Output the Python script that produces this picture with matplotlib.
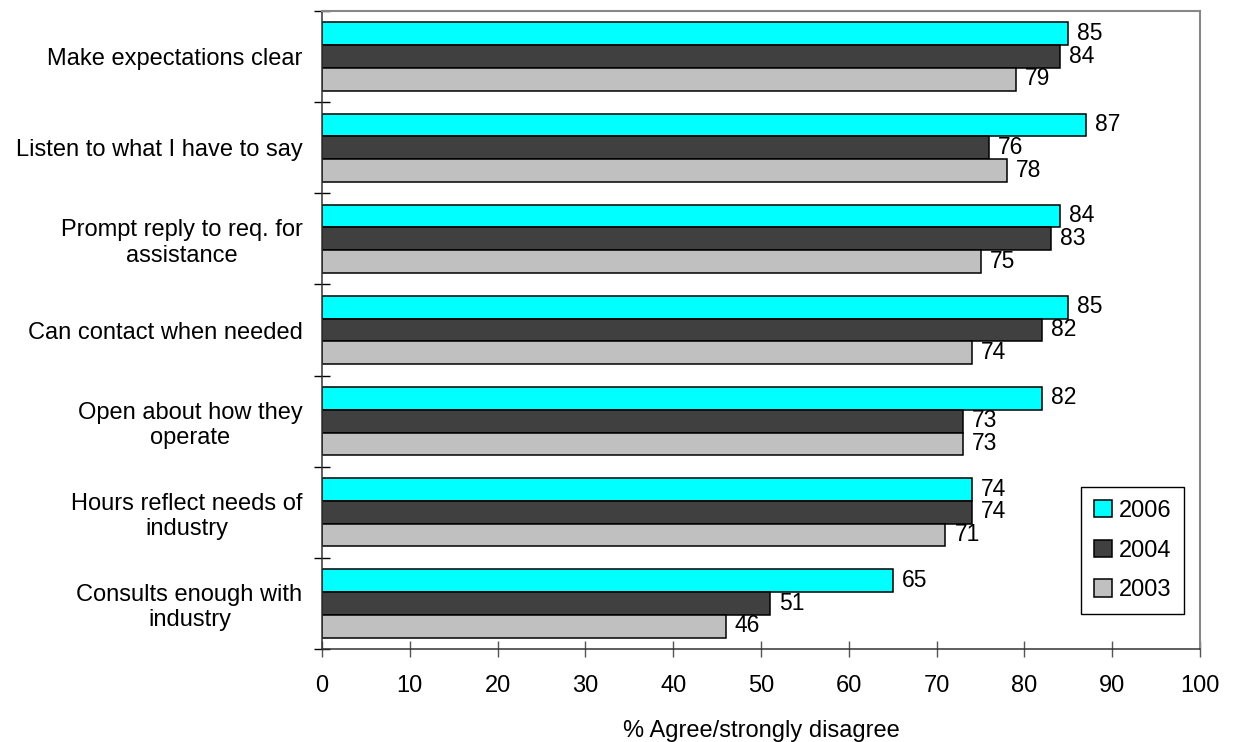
import matplotlib
matplotlib.use("Agg")
import matplotlib.pyplot as plt
import numpy as np

categories = [
    "Make expectations clear",
    "Listen to what I have to say",
    "Prompt reply to req. for\nassistance",
    "Can contact when needed",
    "Open about how they\noperate",
    "Hours reflect needs of\nindustry",
    "Consults enough with\nindustry",
]
series_names = ["2006", "2004", "2003"]
v2006 = [85, 87, 84, 85, 82, 74, 65]
v2004 = [84, 76, 83, 82, 73, 74, 51]
v2003 = [79, 78, 75, 74, 73, 71, 46]
xticks = [0, 10, 20, 30, 40, 50, 60, 70, 80, 90, 100]
xlabel = "% Agree/strongly disagree"

colors = ["#00FFFF", "#404040", "#C0C0C0"]

plt.rcParams['font.family'] = ['Liberation Sans', 'DejaVu Sans']
FS = 17
VFS = 16.5

fig = plt.figure(figsize=(12.35, 7.42), dpi=100)
ax = fig.add_axes([322/1235, 1-649/742, 878/1235, 638/742])

y = np.arange(len(categories))
h = 0.25
offsets = [-h, 0, h]
for vals, name, col, off in zip([v2006, v2004, v2003], series_names, colors, offsets):
    ax.barh(y + off, vals, height=h, color=col, edgecolor='black', linewidth=1.1, label=name, zorder=2)
    for yi, v in zip(y + off, vals):
        ax.annotate(str(v), (v, yi), xytext=(6.5, 0.3), textcoords='offset points',
                    ha='left', va='center', fontsize=VFS)

ax.set_xlim(0, 100)
ax.set_ylim(len(categories) - 0.5, -0.5)
ax.set_xticks(xticks)
ax.set_xticklabels([str(t) for t in xticks], fontsize=FS)
ax.set_yticks(y)
ax.set_yticklabels(categories, fontsize=FS, multialignment='center')
ax.set_yticks(np.arange(-0.5, len(categories), 1.0), minor=True)
ax.tick_params(axis='y', which='major', length=0, pad=14)
ax.tick_params(axis='y', which='minor', direction='inout', length=12, width=1, color='black')
ax.tick_params(axis='x', which='major', direction='inout', length=12, width=1, color='#555555', pad=13)
ax.set_xlabel(xlabel, fontsize=FS, labelpad=16)

for s in ['left', 'bottom']:
    ax.spines[s].set_color('#333333')
    ax.spines[s].set_linewidth(1.1)
for s in ['top', 'right']:
    ax.spines[s].set_color('#888888')
    ax.spines[s].set_linewidth(1.5)

leg = ax.legend(loc='upper right', bbox_to_anchor=(0.982, 0.254), fontsize=FS,
                frameon=True, fancybox=False, edgecolor='black', framealpha=1,
                handlelength=0.75, handleheight=0.75, handletextpad=0.3,
                labelspacing=0.75, borderpad=0.55, borderaxespad=0)
leg.get_frame().set_linewidth(1.0)

fig.savefig("out.png", dpi=100)
